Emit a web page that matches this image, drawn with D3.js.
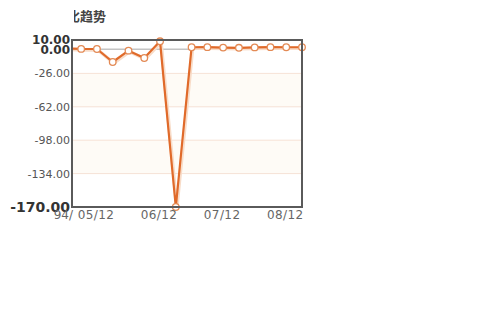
<!DOCTYPE html>
<html lang="zh">
<head>
<meta charset="utf-8">
<script src="https://cdn.jsdelivr.net/npm/d3@7"></script>
<style>
  body { margin: 0; background: #fff; }
  svg { display: block; font-family: "DejaVu Sans", Verdana, sans-serif; }
</style>
</head>
<body>
<svg width="500" height="312"></svg>
<script>
// quarterly periods, first one sits left of the frame and is clipped
var periods = ["05/06", "05/09", "05/12", "06/03", "06/06", "06/09", "06/12", "07/03",
               "07/06", "07/09", "07/12", "08/03", "08/06", "08/09", "08/12", "09/03"];
var values = [1.0, 0.4, 0.3, -13.7, -1.5, -9.4, 8.6, -170, 2.2, 2.3, 1.8, 1.6, 2.0, 2.3, 2.2, 2.2];
var tickLabels = ["05/12", "06/12", "07/12", "08/12"];
var yTicks = [10, 0, -26, -62, -98, -134, -170];

var svg = d3.select("svg");
var plotL = 72, plotR = 302, plotT = 40, plotB = 207;

var x = d3.scaleLinear().domain([0, periods.length - 1]).range([65.4, 302]);
var y = d3.scaleLinear().domain([-170, 10]).range([plotB, plotT]);

// background bands
var bands = [[-26, -62], [-98, -134]];
svg.selectAll("rect.band").data(bands).enter().append("rect")
  .attr("x", plotL).attr("width", plotR - plotL)
  .attr("y", function (d) { return y(d[0]); })
  .attr("height", function (d) { return y(d[1]) - y(d[0]); })
  .attr("fill", "#fefbf6");

// grid lines
svg.selectAll("line.grid").data([-26, -62, -98, -134]).enter().append("line")
  .attr("x1", plotL).attr("x2", plotR)
  .attr("y1", function (d) { return y(d); }).attr("y2", function (d) { return y(d); })
  .attr("stroke", "#f6e2d6").attr("stroke-width", 1);
svg.append("line")
  .attr("x1", plotL).attr("x2", plotR).attr("y1", y(0)).attr("y2", y(0))
  .attr("stroke", "#c4c4c4").attr("stroke-width", 1.5);

// clip
svg.append("clipPath").attr("id", "plot").append("rect")
  .attr("x", plotL).attr("y", plotT - 6).attr("width", plotR - plotL + 6).attr("height", plotB - plotT + 12);
svg.append("clipPath").attr("id", "ttl").append("rect")
  .attr("x", 74).attr("y", 0).attr("width", 100).attr("height", 30);

var line = d3.line().x(function (d, i) { return x(i); }).y(function (d) { return y(d); });
var g = svg.append("g").attr("clip-path", "url(#plot)");
g.append("path").datum(values).attr("d", line)
  .attr("fill", "none").attr("stroke", "#f8dcc8").attr("stroke-width", 3.5)
  .attr("transform", "translate(1,1)");
g.append("path").datum(values).attr("d", line)
  .attr("fill", "none").attr("stroke", "#e06a2a").attr("stroke-width", 2.2)
  .attr("stroke-linejoin", "round");

// frame
svg.append("rect").attr("x", plotL).attr("y", plotT)
  .attr("width", plotR - plotL).attr("height", plotB - plotT)
  .attr("fill", "none").attr("stroke", "#5a5a5a").attr("stroke-width", 2);

g.selectAll("circle").data(values).enter().append("circle")
  .filter(function (d, i) { return i > 0; })
  .attr("cx", function (d, i) { return x(i + 1); })
  .attr("cy", function (d) { return y(d); })
  .attr("r", 3.3)
  .attr("fill", "#fff").attr("stroke", "#e38a55").attr("stroke-width", 1.3);

// y labels
svg.selectAll("text.yl").data(yTicks).enter().append("text")
  .attr("x", 70).attr("y", function (d) { return y(d); })
  .attr("dy", "0.36em").attr("text-anchor", "end")
  .attr("font-size", function (d) { return d === -170 ? 14 : (d >= 0 ? 12 : 11); })
  .attr("font-weight", function (d) { return (d >= 0 || d === -170) ? "bold" : "normal"; })
  .attr("fill", function (d) { return (d >= 0 || d === -170) ? "#333" : "#555"; })
  .text(function (d) { return d.toFixed(2); });

// x labels
svg.selectAll("text.xl").data(tickLabels).enter().append("text")
  .attr("x", function (d) { return x(periods.indexOf(d)) - 1; })
  .attr("y", 219).attr("text-anchor", "middle")
  .attr("font-size", 12).attr("fill", "#666").attr("letter-spacing", 0.4)
  .text(function (d) { return d; });
svg.append("text").attr("x", 73).attr("y", 219).attr("text-anchor", "end")
  .attr("font-size", 12).attr("fill", "#666").text("94/");

// title (partly cut)
svg.append("text").attr("x", 106).attr("y", 21).attr("text-anchor", "end")
  .attr("clip-path", "url(#ttl)")
  .attr("font-family", "Noto Sans CJK SC").attr("font-size", 13).attr("font-weight", "bold")
  .attr("fill", "#444").text("环比趋势");
</script>
</body>
</html>
